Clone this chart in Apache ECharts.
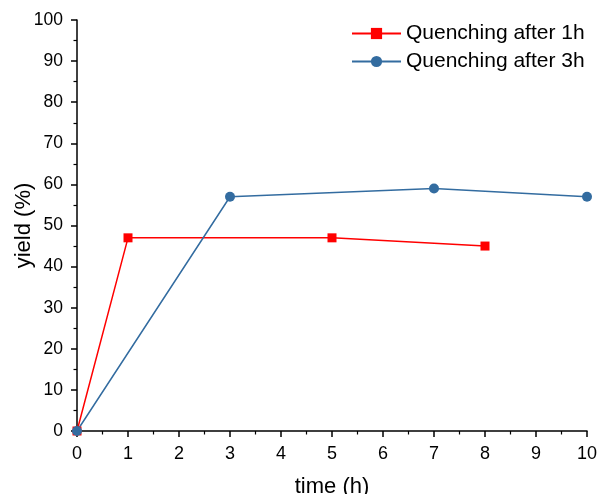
<!DOCTYPE html>
<html>
<head>
<meta charset="utf-8">
<script src="https://cdn.jsdelivr.net/npm/echarts@6/dist/echarts.min.js"></script>
<style>
  html, body { margin: 0; padding: 0; background: #fff; }
  #chart { width: 597px; height: 494px; }
</style>
</head>
<body>
<div id="chart"></div>
<script>
const quench1hTime = [0, 1, 5, 8];
const quench1hYield = [0, 47, 47, 45];
const quench3hTime = [0, 3, 7, 10];
const quench3hYield = [0, 57, 59, 57];

const pairs = (xs, ys) => xs.map((x, i) => [x, ys[i]]);

const chart = echarts.init(document.getElementById('chart'));
const axisCommon = {
  axisLine: { onZero: false, lineStyle: { color: '#000', width: 1.5 } },
  axisTick: { inside: false, length: 6, lineStyle: { color: '#000', width: 1.5 } },
  minorTick: { show: true, splitNumber: 2, length: 3.5, lineStyle: { color: '#000', width: 1.2 } },
  splitLine: { show: false },
  axisLabel: { color: '#000', fontFamily: 'Liberation Sans, Arial', fontSize: 18 },
  nameTextStyle: { color: '#000', fontFamily: 'Liberation Sans, Arial', fontSize: 22 },
  nameMoveOverlap: false
};

chart.setOption({
  animation: false,
  backgroundColor: '#fff',
  grid: { left: 77, right: 10, top: 20, bottom: 63, containLabel: false, outerBoundsMode: 'none' },
  legend: {
    orient: 'vertical',
    left: 346,
    top: 18,
    itemWidth: 49,
    itemHeight: 14,
    itemGap: 7,
    textStyle: { color: '#000', fontFamily: 'Liberation Sans, Arial', fontSize: 21 },
    data: ['Quenching after 1h', 'Quenching after 3h']
  },
  xAxis: Object.assign({}, axisCommon, {
    type: 'value',
    min: 0, max: 10, interval: 1,
    name: 'time (h)',
    nameLocation: 'middle',
    nameGap: 45,
    axisLabel: Object.assign({}, axisCommon.axisLabel, { margin: 14 })
  }),
  yAxis: Object.assign({}, axisCommon, {
    type: 'value',
    min: 0, max: 100, interval: 10,
    name: 'yield (%)',
    nameLocation: 'middle',
    nameGap: 42,
    axisLabel: Object.assign({}, axisCommon.axisLabel, { margin: 14, fontSize: 17.5 })
  }),
  series: [
    {
      name: 'Quenching after 1h',
      type: 'line',
      data: pairs(quench1hTime, quench1hYield),
      symbol: 'rect',
      symbolSize: 9,
      color: '#ff0000',
      lineStyle: { width: 1.5 }
    },
    {
      name: 'Quenching after 3h',
      type: 'line',
      data: pairs(quench3hTime, quench3hYield),
      symbol: 'circle',
      symbolSize: 10,
      color: '#336ca0',
      lineStyle: { width: 1.5 }
    }
  ]
});
</script>
</body>
</html>
